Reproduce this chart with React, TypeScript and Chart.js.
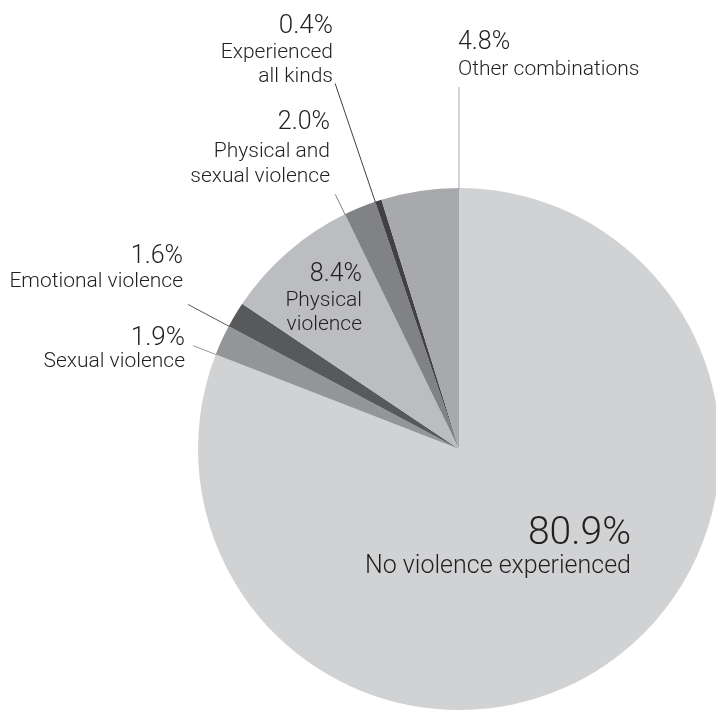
import React, { useEffect, useRef } from "react";
import { Chart, registerables } from "chart.js";

Chart.register(...registerables);

const categories = [
  "No violence experienced",
  "Sexual violence",
  "Emotional violence",
  "Physical violence",
  "Physical and sexual violence",
  "Experienced all kinds",
  "Other combinations",
];
const values = [80.9, 1.9, 1.6, 8.4, 2.0, 0.4, 4.8];
const percentLabels = ["80.9%", "1.9%", "1.6%", "8.4%", "2.0%", "0.4%", "4.8%"];
const nameLines = [
  ["No violence experienced"],
  ["Sexual violence"],
  ["Emotional violence"],
  ["Physical", "violence"],
  ["Physical and", "sexual violence"],
  ["Experienced", "all kinds"],
  ["Other combinations"],
];
const colors = ["#d1d2d4", "#939598", "#58595b", "#bcbdc0", "#808285", "#414042", "#a7a9ac"];

// label layout (text placement only)
type Lay = {
  x: number; y: number; align: CanvasTextAlign; pSize: number; nSize: number;
  gap: number; lineH: number; leader?: { edge: "start" | "end"; len: number };
};
const layout: Lay[] = [
  { x: 631, y: 544, align: "right", pSize: 39, nSize: 25, gap: 29, lineH: 24 },
  { x: 185, y: 345, align: "right", pSize: 26, nSize: 21, gap: 22, lineH: 24, leader: { edge: "start", len: 24 } },
  { x: 183, y: 263, align: "right", pSize: 25, nSize: 21, gap: 24, lineH: 24, leader: { edge: "start", len: 46 } },
  { x: 362, y: 281, align: "right", pSize: 25, nSize: 21, gap: 25, lineH: 24 },
  { x: 330, y: 129, align: "right", pSize: 25, nSize: 21, gap: 28, lineH: 25, leader: { edge: "start", len: 22 } },
  { x: 333, y: 33, align: "right", pSize: 26, nSize: 21, gap: 25, lineH: 24, leader: { edge: "start", len: 125 } },
  { x: 458, y: 49, align: "left", pSize: 25, nSize: 21, gap: 26, lineH: 24, leader: { edge: "end", len: 101 } },
];

const TEXT = "#231f20";

const labelPlugin = {
  id: "pieLabels",
  afterDatasetsDraw(chart: any) {
    const ctx: CanvasRenderingContext2D = chart.ctx;
    const meta = chart.getDatasetMeta(0);
    ctx.save();
    meta.data.forEach((arc: any, i: number) => {
      const lay = layout[i];
      if (lay.leader) {
        const a = lay.leader.edge === "start" ? arc.startAngle : arc.endAngle;
        const r0 = arc.outerRadius - 1;
        const r1 = arc.outerRadius + lay.leader.len;
        ctx.beginPath();
        ctx.strokeStyle = colors[i];
        ctx.lineWidth = 1;
        ctx.moveTo(arc.x + Math.cos(a) * r0, arc.y + Math.sin(a) * r0);
        ctx.lineTo(arc.x + Math.cos(a) * r1, arc.y + Math.sin(a) * r1);
        ctx.stroke();
      }
      ctx.fillStyle = TEXT;
      ctx.textAlign = lay.align;
      ctx.textBaseline = "alphabetic";
      ctx.font = `300 ${lay.pSize}px Roboto, "Liberation Sans", sans-serif`;
      ctx.fillText(percentLabels[i], lay.x, lay.y);
      ctx.font = `300 ${lay.nSize}px Roboto, "Liberation Sans", sans-serif`;
      nameLines[i].forEach((ln, k) => {
        ctx.fillText(ln, lay.x, lay.y + lay.gap + k * lay.lineH);
      });
    });
    ctx.restore();
  },
};

export default function App() {
  const ref = useRef<HTMLCanvasElement>(null);
  useEffect(() => {
    if (!ref.current) return;
    const chart = new Chart(ref.current, {
      type: "pie",
      data: {
        labels: categories,
        datasets: [
          {
            data: values,
            backgroundColor: colors,
            borderWidth: 0,
          },
        ],
      },
      options: {
        responsive: false,
        animation: false,
        layout: { padding: { left: 198, top: 188, right: 20, bottom: 10 } },
        plugins: {
          legend: { display: false },
          tooltip: { enabled: false },
        },
      },
      plugins: [labelPlugin],
    });
    return () => chart.destroy();
  }, []);
  return (
    <div
      style={{
        position: "fixed",
        left: 0,
        top: 0,
        width: 716,
        height: 710,
        overflow: "hidden",
        background: "#fff",
      }}
    >
      <canvas ref={ref} width={740} height={720} style={{ display: "block", width: 740, height: 720 }} />
    </div>
  );
}
